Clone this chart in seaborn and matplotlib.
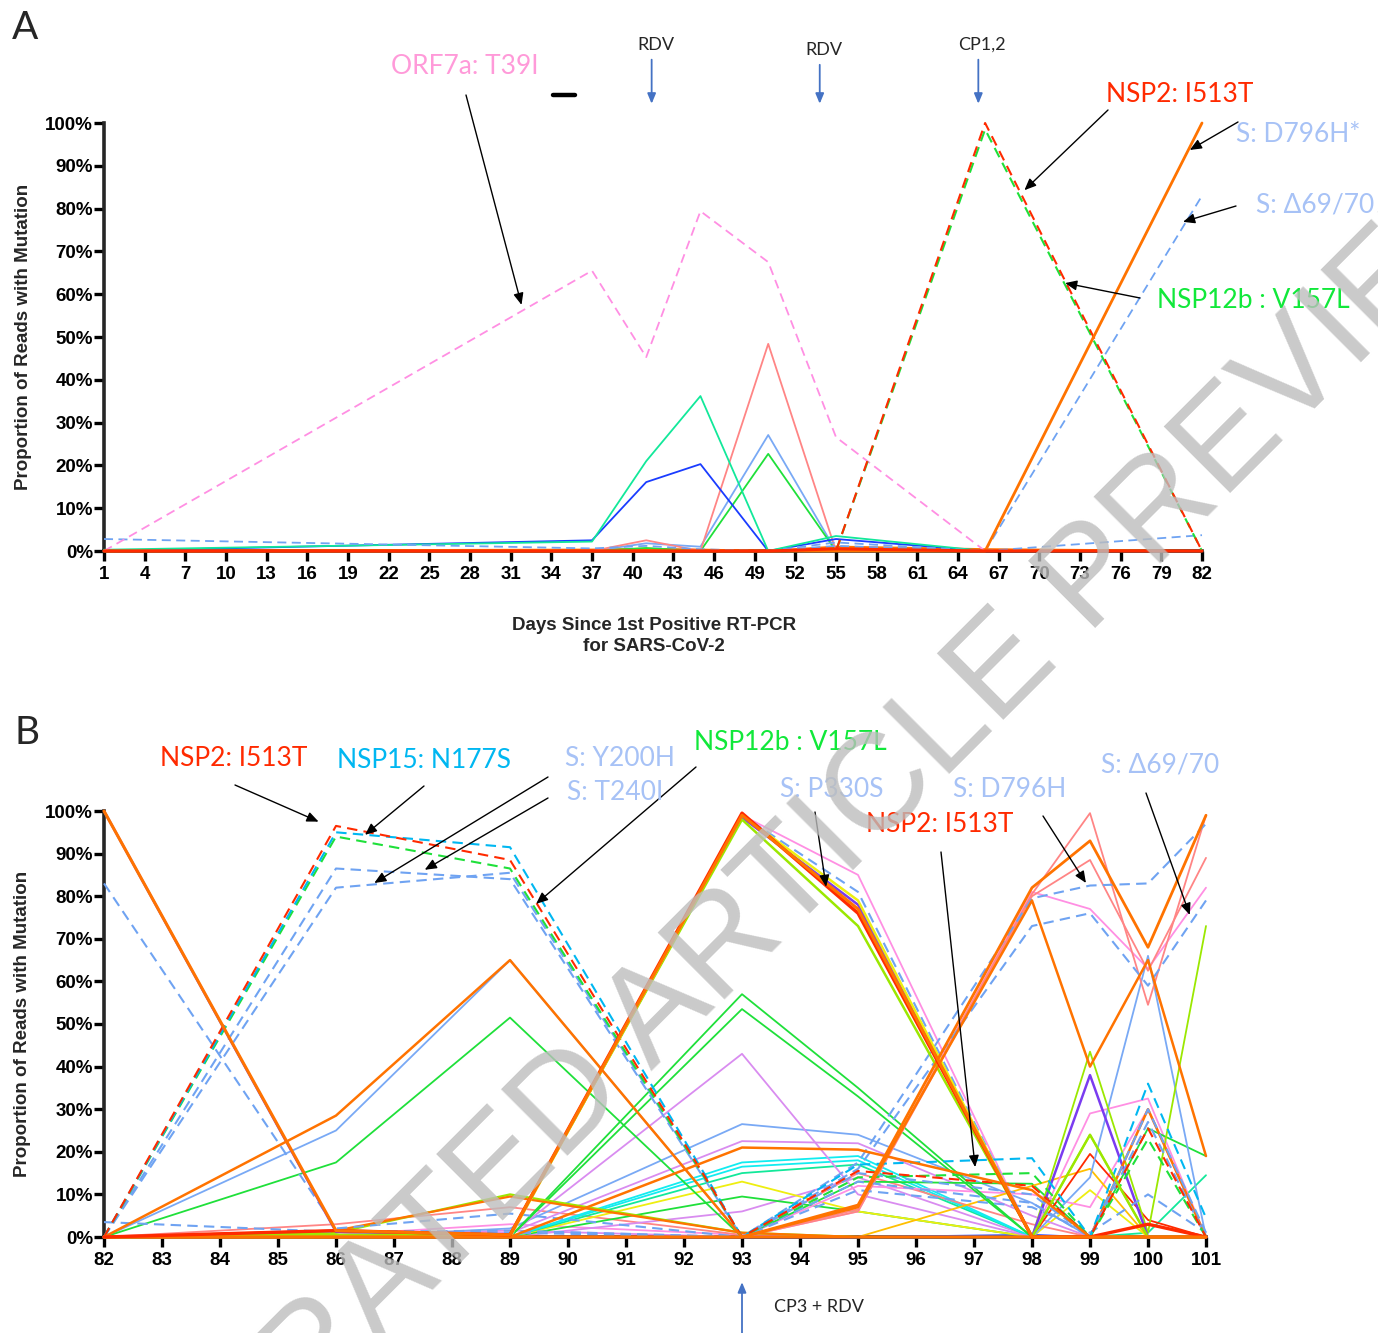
import matplotlib
matplotlib.use("Agg")
import matplotlib.pyplot as plt
from matplotlib import font_manager
from matplotlib.lines import Line2D
import seaborn as sns

W, H = 1378, 1333

# ---------------- panel A: days since 1st positive RT-PCR ----------------
days_a = [1, 37, 41, 45, 50, 55, 66, 82]
a_orf7a = [0, 65.5, 45.3, 79.4, 67.5, 26.6, 0, 0]
a_nsp12b = [0, 0, 0, 0, 0, 0, 98.5, 0]
a_nsp2 = [0, 0, 0, 0, 0, 0, 100, 0]
a_d796h = [0, 0, 0, 0, 0, 0, 0, 100]
a_del6970 = [2.8, 0.6, 1.2, 0.4, 0, 1.2, 0, 83]
a_dash_low = [0, 0, 0, 0, 0, 2, 0, 3.7]
a_teal = [0.3, 2.2, 21, 36.2, 0, 3.5, 0, 0]
a_blue = [0, 2.5, 16.1, 20.3, 0, 2.8, 0, 0]
a_salmon = [0, 0, 2.5, 0, 48.4, 0, 0, 0]
a_ltblue = [0, 0, 1.8, 1, 27.1, 0, 0, 0]
a_green = [0, 0, 0.7, 0, 22.7, 0, 0, 0]
a_orange_low = [0, 0.3, 0.5, 0.3, 0, 1, 0.4, 0]
a_red_low = [0, 0, 0, 0, 0, 0.5, 0, 0]

# ---------------- panel B ----------------
days_b = [82, 86, 89, 93, 95, 98, 99, 100, 101]
# dashed series
b_nsp2 = [0, 96.5, 88.5, 0, 15.5, 12, 0, 25.5, 0]
b_nsp15 = [0, 95, 91.5, 0, 17, 18.5, 0, 36, 4.5]
b_nsp12b = [0, 94, 86.5, 0, 14, 15, 0, 23, 0]
b_y200h = [0, 82, 85.5, 0, 13, 8, 0, 27, 0]
b_t240i = [0, 86.5, 84, 0, 15, 10, 0, 30, 1]
b_del6970 = [83, 2, 5.5, 0, 17.5, 79.5, 82.5, 83, 97]
b_del_b = [3.5, 1.2, 1.5, 0, 16, 73, 76, 59, 79]
b_dash_low = [0, 1.5, 1, 0, 11, 7, 1, 10, 1]
b_dash93 = [0, 0, 0, 99, 81, 0, 0, 0, 0]
# big swing at day 93
b_d796h = [100, 1.5, 0.5, 99, 77, 0, 0, 0, 0]
b_p330s = [0, 1.5, 0.5, 99.5, 76, 0, 0, 3, 0]
b_c93_yellow = [0, 0, 0, 99, 79, 0, 0, 0, 0]
b_c93_purple = [100, 1.2, 0.4, 98.5, 78, 0, 0, 0, 0]
b_c93_lime = [0, 0.5, 0.5, 98, 73, 0, 24, 0, 0]
b_c93_pink = [0, 0, 0, 99, 85, 0, 0, 0, 0]
# rise at day 98
b_r_orange1 = [0, 0, 0, 0, 7.5, 82, 93, 68, 99]
b_r_orange2 = [0, 0, 0, 0, 7, 79, 40, 65, 19]
b_r_salmon1 = [0, 0, 0, 0, 6.5, 80.5, 99.5, 54.5, 99]
b_r_salmon2 = [0, 0, 0, 0, 6, 80, 88.5, 62.5, 89]
b_r_pink = [0, 0, 0, 0, 6, 81, 77, 63, 82]
b_r_ltblue = [0, 0, 0, 0, 0, 0, 14, 66, 0]
# intermediate series
b_orange89 = [0, 28.5, 65, 0, 0, 0, 0, 0, 0]
b_ltblue89 = [0, 25, 65, 0, 0, 0, 0, 0, 0]
b_green89 = [0, 17.5, 51.5, 0, 0, 0, 0, 0, 0]
b_green93a = [0, 0, 0, 57, 35, 0, 0, 0, 0]
b_green93b = [0, 0, 0, 53.5, 33, 0, 0, 0, 0]
b_violet93a = [0, 0, 0.5, 43, 10, 0, 0, 0, 0]
b_ltblue93 = [0, 0, 2, 26.5, 24, 8, 0, 0, 0]
b_violet93b = [0, 0, 1, 22.5, 22, 5, 0, 0, 0]
b_orange93 = [0, 0, 0, 21, 20.5, 11, 0, 0, 0]
b_cyan93a = [0, 0, 0, 17.5, 19, 0, 0, 0, 0]
b_cyan93b = [0, 0, 0, 16.5, 18, 0, 0, 0, 0]
b_teal93 = [0, 0, 0, 15, 17, 0, 0, 0, 0]
b_yellow93 = [0, 0, 0, 13, 6, 0, 0, 0, 0]
b_green93c = [0, 0, 0, 9.5, 6, 0, 0, 0, 0]
b_violet93c = [0, 0, 0, 6, 14, 0, 0, 0, 0]
b_green95 = [0, 0, 0, 0, 13, 12.5, 0, 0, 0]
b_pink95 = [0, 0, 0, 0, 12, 10, 7, 30, 0]
b_salmon95 = [0, 0, 0, 0, 15, 3, 0, 0, 0]
b_gold98 = [0, 0, 0, 0, 0, 12, 16, 0, 0]
b_lime89 = [0, 1, 10, 1, 0, 0, 0, 0, 0]
b_orange89b = [0, 1.5, 9.5, 1, 0, 0, 0, 0, 0]
b_salmon89 = [0, 3, 7, 0.5, 0, 0, 0, 0, 0]
b_pink89 = [0, 0.5, 3, 0.5, 0, 0, 0, 0, 0]
b_violet89 = [0, 0.5, 1.5, 0, 0, 0, 0, 0, 0]
# late samples
b_purple99 = [0, 0, 0, 0, 0, 0, 38, 0, 0]
b_lime99 = [0, 0, 0, 0, 0, 0, 43.5, 1, 73]
b_lime99b = [0, 0, 0, 0, 0, 0, 24, 0, 0]
b_pink99 = [0, 0, 0, 0, 0, 0, 29, 32.5, 0]
b_red99 = [0, 0, 0, 0, 0, 0, 19.5, 4, 0]
b_yellow99 = [0, 0, 0, 0, 0, 0, 11, 0, 0]
b_green100 = [0, 0, 0, 0, 0, 0, 0, 25.5, 19]
b_teal101 = [0, 0, 0, 0, 0, 0, 0, 1, 14.5]
b_orange100 = [0, 0, 0, 0, 0, 0, 0, 30, 0]
b_blue_low = [0, 0, 0, 0, 0, 0.5, 0, 0, 0]

pct_ticks = list(range(0, 101, 10))
pct_labels = [f"{v}%" for v in pct_ticks]

# colours
RED = "#ff2a00"
ORANGE = "#ff7300"
PINK = "#ff8fe3"
SALMON = "#ff8585"
DBLUE = "#6fa3f2"
LTBLUE = "#79a9f5"
GREEN = "#1fe03a"
TEAL = "#12e89a"
CYAN = "#12ecf0"
CYAN_D = "#00b7f1"
LIME = "#9be800"
YELLOW = "#eeee10"
GOLD = "#ffbf00"
VIOLET = "#d98cf0"
PURPLE = "#7a3cf0"
BLUE = "#1a3cff"
LBL_BLUE = "#a7c2f6"

sns.set_style("ticks")
plt.rcParams["font.family"] = ["Liberation Sans", "DejaVu Sans"]
LBL_FONT = ["Lato", "DejaVu Sans"]

# condensed face for the tick numbers, if the narrow variant is installed
try:
    font_manager.findfont(font_manager.FontProperties(family="Liberation Sans Narrow",
                                                      weight="bold"),
                          fallback_to_default=False)
    TICK_FAMILY, TICK_SIZE = "Liberation Sans Narrow", 15.5
except ValueError:
    TICK_FAMILY, TICK_SIZE = "Liberation Sans", 13.5


def draw(ax, days, values, color, dashed=False, lw=1.3, z=2):
    sns.lineplot(x=days, y=values, ax=ax, color=color, lw=lw,
                 linestyle=(0, (5, 3)) if dashed else "-",
                 clip_on=False, zorder=z)


def fx(px, py):
    return px / W, 1 - py / H


def style_axis(ax, xticks, xlim):
    ax.set_xlim(*xlim)
    ax.set_ylim(0, 100)
    ax.set_xticks(xticks)
    ax.set_yticks(pct_ticks)
    ax.set_yticklabels(pct_labels)
    ax.tick_params(width=2.4, length=7, labelsize=TICK_SIZE, colors="black")
    ax.tick_params(axis="x", pad=4)
    ax.tick_params(axis="y", pad=1)
    for lab in ax.get_xticklabels() + ax.get_yticklabels():
        lab.set_fontweight("bold")
        lab.set_family(TICK_FAMILY)
    sns.despine(ax=ax)
    for s in ("left", "bottom"):
        ax.spines[s].set_linewidth(2.6)
        ax.spines[s].set_zorder(1)
    ax.set_ylabel("Proportion of Reads with Mutation", fontweight="bold", fontsize=13.5)
    ax.yaxis.set_label_coords(-0.066, 0.5)


def label(fig, text, px, py, color, size=19):
    fig.text(*fx(px, py), text, color=color, fontsize=size, family=LBL_FONT,
             ha="center", va="center")


def pointer(ax, tail_px, head, lw=1.0):
    ax.annotate("", xy=head, xycoords="data", xytext=fx(*tail_px),
                textcoords="figure fraction",
                arrowprops=dict(arrowstyle="-|>,head_length=0.7,head_width=0.3",
                                color="black", lw=lw, shrinkA=0, shrinkB=0),
                annotation_clip=False, zorder=6)


def blue_arrow(ax, day, head_y, tail_y):
    ax.annotate("", xy=(day, head_y), xycoords=("data", "axes fraction"),
                xytext=(day, tail_y), textcoords=("data", "axes fraction"),
                arrowprops=dict(arrowstyle="-|>,head_length=0.6,head_width=0.25",
                                color="#4472c4", lw=1.3, shrinkA=0, shrinkB=0),
                annotation_clip=False)


fig = plt.figure(figsize=(W / 100, H / 100), dpi=100)
ax_a = fig.add_axes([104 / W, 1 - 551 / H, (1202 - 104) / W, (551 - 123) / H])
ax_b = fig.add_axes([104 / W, 1 - 1237 / H, (1206 - 104) / W, (1237 - 811) / H])

# ---------------- panel A ----------------
draw(ax_a, days_a, a_orange_low, ORANGE, lw=1.6)
draw(ax_a, days_a, a_ltblue, LTBLUE)
draw(ax_a, days_a, a_green, GREEN)
draw(ax_a, days_a, a_salmon, SALMON)
draw(ax_a, days_a, a_blue, BLUE)
draw(ax_a, days_a, a_teal, TEAL)
draw(ax_a, days_a, a_dash_low, DBLUE, dashed=True)
draw(ax_a, days_a, a_del6970, DBLUE, dashed=True)
draw(ax_a, days_a, a_orf7a, PINK, dashed=True)
draw(ax_a, days_a, a_nsp12b, GREEN, dashed=True, lw=1.5)
draw(ax_a, days_a, a_nsp2, RED, dashed=True, lw=1.5)
draw(ax_a, days_a, a_d796h, ORANGE, lw=2)
draw(ax_a, days_a, a_red_low, RED, lw=2.2, z=3)
style_axis(ax_a, list(range(1, 83, 3)), (1, 82))
ax_a.set_xlabel("Days Since 1st Positive RT-PCR\nfor SARS-CoV-2", fontweight="bold",
                fontsize=13.5, linespacing=1.25)
ax_a.xaxis.set_label_coords(0.501, -0.155)

# ---------------- panel B ----------------
thin = [
    (b_violet89, VIOLET), (b_pink89, PINK), (b_salmon89, SALMON),
    (b_blue_low, BLUE), (b_teal101, TEAL), (b_yellow99, YELLOW),
    (b_violet93c, VIOLET), (b_green93c, GREEN), (b_yellow93, YELLOW),
    (b_teal93, TEAL), (b_cyan93b, CYAN), (b_cyan93a, CYAN),
    (b_violet93b, VIOLET), (b_ltblue93, LTBLUE), (b_violet93a, VIOLET),
    (b_salmon95, SALMON), (b_pink95, PINK), (b_green95, GREEN),
    (b_gold98, GOLD), (b_green93b, GREEN), (b_green93a, GREEN),
    (b_ltblue89, LTBLUE), (b_green89, GREEN), (b_pink99, PINK),
    (b_lime99b, LIME), (b_red99, RED), (b_green100, GREEN),
    (b_r_ltblue, LTBLUE), (b_r_pink, PINK), (b_r_salmon2, SALMON),
    (b_r_salmon1, SALMON), (b_c93_pink, PINK), (b_lime99, LIME),
]
for vals, col in thin:
    draw(ax_b, days_b, vals, col)
draw(ax_b, days_b, b_purple99, PURPLE, lw=1.8)
draw(ax_b, days_b, b_orange100, ORANGE, lw=1.8)
draw(ax_b, days_b, b_lime89, LIME, lw=1.6)
draw(ax_b, days_b, b_orange89b, ORANGE, lw=1.6)

dashed = [
    (b_dash_low, DBLUE), (b_del_b, DBLUE), (b_del6970, DBLUE),
    (b_dash93, DBLUE), (b_y200h, DBLUE), (b_t240i, DBLUE),
    (b_nsp12b, GREEN), (b_nsp15, CYAN_D), (b_nsp2, RED),
]
for vals, col in dashed:
    draw(ax_b, days_b, vals, col, dashed=True, lw=1.5)

draw(ax_b, days_b, b_c93_purple, PURPLE, lw=1.8)
draw(ax_b, days_b, b_c93_lime, LIME, lw=1.8)
draw(ax_b, days_b, b_c93_yellow, YELLOW, lw=1.8)
draw(ax_b, days_b, b_orange93, ORANGE, lw=1.8)
draw(ax_b, days_b, b_orange89, ORANGE, lw=1.8)
draw(ax_b, days_b, b_r_orange2, ORANGE, lw=1.8)
draw(ax_b, days_b, b_r_orange1, ORANGE, lw=2)
draw(ax_b, days_b, b_p330s, RED, lw=2.4, z=3)
draw(ax_b, days_b, b_d796h, ORANGE, lw=2.2, z=3)
style_axis(ax_b, list(range(82, 102)), (82, 101))
ax_b.set_xlabel("")

# ---------------- annotations ----------------
fig.text(*fx(25, 28), "A", fontsize=28, family=LBL_FONT, ha="center", va="center")
fig.text(*fx(27, 733), "B", fontsize=28, family=LBL_FONT, ha="center", va="center")

label(fig, "ORF7a: T39I", 465, 67, "#ff9ad9")
fig.add_artist(Line2D([553 / W, 575 / W], [1 - 95 / H, 1 - 95 / H], lw=3.2, color="black"))
label(fig, "NSP2: I513T", 1180, 95, RED)
label(fig, "S: D796H*", 1298, 135, LBL_BLUE)
label(fig, "S: \u039469/70", 1315, 205, LBL_BLUE)
label(fig, "NSP12b : V157L", 1253, 300, "#11e83a")
pointer(ax_a, (466, 95), (31.8, 57.5))
pointer(ax_a, (1108, 110), (68.9, 84.3))
pointer(ax_a, (1238, 122), (81.1, 93.7))
pointer(ax_a, (1236, 206), (80.6, 76.9))
pointer(ax_a, (1140, 298), (71.9, 62.6))

# treatment markers above panel A
for day, name, ytxt in [(41.4, "RDV", 1.183), (53.8, "RDV", 1.171), (65.5, "CP1,2", 1.183)]:
    ax_a.text(day + 0.3, ytxt, name, transform=ax_a.get_xaxis_transform(), fontsize=13,
              family=LBL_FONT, ha="center", va="center")
    blue_arrow(ax_a, day, 1.045, ytxt - 0.035)

label(fig, "NSP2: I513T", 234, 758, RED)
label(fig, "NSP15: N177S", 424, 760, CYAN_D)
label(fig, "S: Y200H", 620, 758, LBL_BLUE)
label(fig, "S: T240I", 615, 793, LBL_BLUE)
label(fig, "NSP12b : V157L", 790, 743, "#11e83a")
label(fig, "S: P330S", 832, 790, LBL_BLUE)
label(fig, "S: D796H", 1010, 790, LBL_BLUE)
label(fig, "S: \u039469/70", 1160, 765, LBL_BLUE)
label(fig, "NSP2: I513T", 940, 825, RED)
pointer(ax_b, (235, 785), (85.7, 97.5))
pointer(ax_b, (424, 786), (86.5, 94.4))
pointer(ax_b, (548, 777), (86.66, 83.1))
pointer(ax_b, (548, 798), (87.53, 86.2))
pointer(ax_b, (696, 767), (89.45, 78.2))
pointer(ax_b, (815, 812), (94.45, 82.2))
pointer(ax_b, (1043, 816), (98.93, 83.1))
pointer(ax_b, (1146, 793), (100.72, 75.6))
pointer(ax_b, (941, 852), (97.02, 16.4))

blue_arrow(ax_b, 93, -0.106, -0.235)
ax_b.text(94.33, -0.164, "CP3 + RDV", transform=ax_b.get_xaxis_transform(),
          fontsize=13, family=LBL_FONT, ha="center", va="center")

# watermark (runs off the page like the original)
fig.text(*fx(703, 971), "ACCELERATED ARTICLE PREVIEW", rotation=45, fontsize=99,
         color="#bdbdbd", alpha=0.8, ha="center", va="center",
         rotation_mode="anchor", zorder=10)

fig.savefig("out.png", dpi=100)
